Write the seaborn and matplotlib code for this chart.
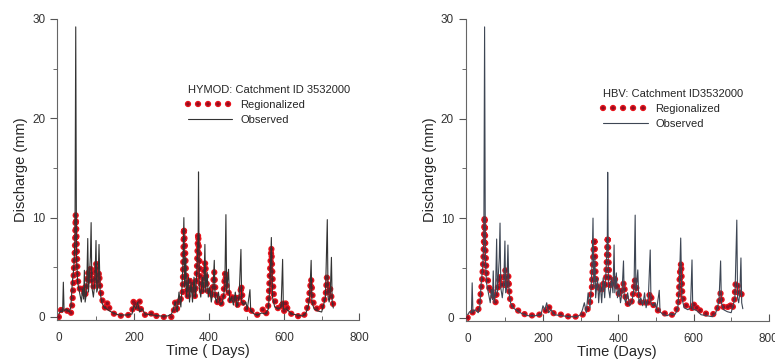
"""
observed vs regionalized discharge, HYMOD and HBV, catchment 3532000
"""
import matplotlib.pyplot as plt
import seaborn as sns
import numpy as np
from matplotlib.ticker import MultipleLocator
from matplotlib.lines import Line2D
from matplotlib.legend_handler import HandlerTuple

sns.set_style('ticks')
plt.rcParams['font.family'] = ['Liberation Sans', 'DejaVu Sans']
plt.rcParams['lines.scale_dashes'] = False

# observed discharge (same in both panels)
obs_day = [0, 5, 10, 12, 14, 20, 28, 32, 36, 40, 43, 45, 47, 50, 55, 60, 63, 66, 68, 70,
           74, 77, 79, 82, 84, 86, 88, 92, 96, 99, 101, 104, 107, 110, 114, 120, 128, 135,
           145, 160, 180, 195, 200, 205, 210, 215, 222, 230, 250, 270, 290, 300, 305, 310,
           315, 320, 325, 328, 331, 333, 335, 338, 340, 345, 348, 352, 356, 360, 364, 368,
           371, 372, 374, 378, 382, 386, 389, 391, 395, 398, 402, 406, 410, 414, 416, 420,
           425, 430, 436, 442, 445, 447, 452, 455, 460, 465, 470, 474, 480, 485, 487, 492,
           498, 502, 509, 511, 520, 530, 540, 550, 558, 562, 566, 569, 575, 585, 592, 596,
           598, 605, 612, 620, 635, 650, 658, 664, 668, 672, 674, 680, 690, 700, 705, 710,
           715, 717, 720, 723, 726, 728, 731]
obs_q = [0.3, 0.6, 0.5, 3.5, 0.6, 0.8, 0.5, 1.0, 3.5, 5.0, 8.0, 29.2, 6.0, 3.5, 2.5, 1.5, 2.8, 1.8, 4.7, 1.5,
         2.5, 7.9, 2.5, 4.5, 6.0, 9.5, 3.0, 2.0, 3.5, 7.7, 2.5, 3.0, 7.3, 2.5, 1.5, 1.0, 0.8, 0.6,
         0.4, 0.2, 0.2, 0.3, 1.2, 0.8, 1.5, 0.5, 0.8, 0.3, 0.2, 0.1, 0.1, 0.3, 0.8, 1.5,
         0.5, 2.5, 1.0, 3.0, 6.0, 10.0, 3.0, 6.0, 2.0, 4.0, 1.5, 3.5, 1.5, 4.0, 2.0, 5.0,
         8.0, 14.6, 3.0, 2.0, 4.0, 2.5, 7.3, 2.5, 4.5, 2.0, 3.0, 1.5, 2.5, 5.7, 2.0, 1.5,
         2.5, 1.2, 1.5, 3.0, 10.3, 2.5, 4.8, 1.5, 2.0, 1.2, 2.5, 1.0, 2.0, 6.8, 1.5, 1.2,
         1.5, 0.8, 2.75, 0.6, 0.3, 0.2, 0.4, 0.3, 0.8, 3.0, 8.0, 2.0, 1.0, 0.8, 1.0, 5.8,
         0.8, 0.8, 0.6, 0.3, 0.2, 0.1, 0.4, 1.0, 2.0, 5.7, 1.5, 0.8, 0.6, 0.5, 1.2, 2.0,
         9.8, 2.0, 1.5, 2.5, 6.0, 1.5, 0.9]

# regionalized HYMOD
hymod_day = [0, 5, 10, 15, 20, 28, 34, 38, 40, 43, 45, 47, 50, 53, 57, 60, 65, 70, 74, 78,
             82, 85, 88, 92, 96, 100, 103, 107, 110, 113, 118, 125, 130, 135, 140, 150, 170,
             185, 195, 200, 205, 210, 215, 220, 230, 240, 250, 260, 275, 290, 300, 305, 310,
             315, 320, 325, 330, 333, 336, 340, 343, 348, 352, 357, 362, 367, 371, 374, 378,
             382, 386, 390, 393, 398, 402, 406, 410, 414, 418, 422, 428, 432, 438, 443, 447,
             452, 458, 462, 467, 472, 476, 482, 486, 490, 495, 500, 505, 510, 520, 528, 535,
             545, 552, 558, 563, 566, 569, 573, 580, 590, 596, 600, 605, 610, 615, 622, 635,
             650, 655, 660, 664, 668, 672, 676, 680, 690, 700, 705, 710, 714, 718, 722, 726, 731]
hymod_q = [0.0, 0.7, 0.7, 0.8, 0.8, 0.2, 0.5, 2.5, 4.7, 7.0, 10.3, 8.0, 4.0, 3.0, 2.8, 2.5, 3.0, 2.0, 3.5, 4.5,
           3.5, 5.0, 4.0, 3.0, 4.0, 5.5, 3.5, 4.5, 3.0, 2.3, 1.3, 0.8, 1.5, 0.8, 0.6, 0.2, 0.1,
           0.2, 0.5, 1.8, 1.0, 0.8, 1.6, 0.5, 0.2, 0.1, 0.5, 0.1, 0.0, 0.0, 0.0, 0.3, 1.5,
           0.8, 2.0, 1.8, 2.5, 9.0, 7.0, 3.0, 2.0, 4.0, 2.5, 3.5, 2.0, 4.0, 8.4, 6.0, 3.0,
           2.5, 4.5, 5.5, 3.5, 2.5, 2.8, 2.0, 3.0, 4.5, 2.0, 1.5, 2.0, 1.2, 2.0, 4.5, 3.0,
           2.5, 1.5, 2.0, 1.5, 2.2, 1.2, 2.0, 3.2, 1.5, 1.0, 0.8, 1.0, 0.8, 0.3, 0.2, 0.5,
           0.8, 0.3, 1.2, 5.0, 7.0, 4.0, 2.0, 1.0, 0.7, 1.6, 0.6, 1.5, 0.6, 0.5, 0.2, 0.1,
           0.0, 0.3, 0.6, 1.5, 2.5, 3.8, 2.0, 1.0, 0.8, 0.8, 1.7, 1.8, 4.0, 2.5, 3.0, 2.0, 1.2]

# regionalized HBV
hbv_day = [0, 5, 10, 20, 28, 35, 38, 42, 45, 47, 50, 55, 60, 65, 70, 74, 78, 82, 86, 90,
           95, 100, 104, 108, 112, 118, 125, 135, 145, 160, 175, 190, 200, 210, 215, 220,
           230, 250, 270, 285, 300, 310, 318, 325, 330, 334, 337, 340, 345, 350, 355, 360,
           365, 368, 372, 376, 380, 385, 390, 395, 400, 405, 410, 415, 420, 428, 435, 440,
           444, 448, 453, 460, 466, 472, 478, 484, 488, 494, 500, 508, 520, 530, 545, 555,
           560, 564, 567, 570, 575, 585, 595, 600, 605, 612, 620, 635, 648, 655, 662, 668,
           672, 676, 682, 690, 696, 702, 708, 712, 716, 720, 725, 731]
hbv_q = [0.0, 0.3, 0.5, 0.6, 0.7, 2.5, 3.5, 6.0, 10.2, 7.0, 4.5, 3.5, 2.5, 2.8, 2.0, 1.5, 2.8, 3.2, 4.3, 3.2,
         3.0, 4.8, 3.0, 4.2, 2.0, 1.2, 0.9, 0.7, 0.4, 0.3, 0.2, 0.3, 0.5, 0.8, 1.2, 0.7,
         0.4, 0.3, 0.1, 0.1, 0.2, 0.4, 0.8, 1.5, 3.0, 6.5, 8.0, 4.0, 3.0, 3.2, 2.5, 3.5,
         3.0, 4.0, 8.2, 4.0, 3.0, 3.5, 4.0, 3.5, 2.5, 2.2, 3.0, 3.5, 1.8, 1.2, 1.5, 2.5,
         3.8, 3.0, 2.5, 1.5, 1.8, 1.5, 1.2, 2.5, 2.0, 1.2, 0.8, 0.7, 0.5, 0.3, 0.3, 0.8,
         1.5, 4.5, 5.5, 2.5, 1.5, 1.0, 0.9, 1.5, 0.8, 1.2, 0.5, 0.4, 0.3, 0.4, 0.8, 1.5,
         2.5, 1.5, 0.8, 1.0, 1.5, 0.8, 1.5, 3.5, 3.6, 2.5, 2.8, 1.8]

panels = [('HYMOD: Catchment ID 3532000', hymod_day, hymod_q, 'Time ( Days)', '#333333'),
          ('HBV: Catchment ID3532000', hbv_day, hbv_q, 'Time (Days)', '#3d4654')]
positions = [[0.0735, 0.121, 0.39, 0.827], [0.601, 0.119, 0.391, 0.829]]
leg_anchor = [(0.415, 0.80), (0.435, 0.785)]

dots = (0, (0.01, 5.4))
leg_dots = (0, (0.01, 7.2))
red, dark = '#e8141c', '#8e0f22'

fig = plt.figure(figsize=(7.75, 3.64), dpi=100)
for i, (title, rday, rq, xlab, obs_col) in enumerate(panels):
    ax = fig.add_axes(positions[i])
    # regionalized as a thick dotted line: red rim, dark centre
    sns.lineplot(x=rday, y=rq, ax=ax, color=red, lw=4.6, linestyle=dots,
                 dash_capstyle='round', estimator=None, sort=False, zorder=2)
    sns.lineplot(x=rday, y=rq, ax=ax, color=dark, lw=2.6, linestyle=dots,
                 dash_capstyle='round', estimator=None, sort=False, zorder=3)
    sns.lineplot(x=obs_day, y=obs_q, ax=ax, color=obs_col, lw=0.8,
                 estimator=None, sort=False, zorder=4)

    ax.set(xlim=(-5, 800), ylim=(-0.3, 30), xlabel=xlab, ylabel='Discharge (mm)')
    ax.set_xticks([0, 200, 400, 600, 800])
    ax.set_yticks([0, 10, 20, 30])
    ax.xaxis.set_minor_locator(MultipleLocator(100))
    ax.yaxis.set_minor_locator(MultipleLocator(5))
    ax.tick_params(axis='x', which='both', direction='in', colors='#555555',
                   labelcolor='#333333', labelsize=8.5, pad=9)
    ax.tick_params(axis='x', which='major', length=5)
    ax.tick_params(axis='x', which='minor', length=3)
    ax.tick_params(axis='y', which='both', direction='out', colors='#555555',
                   labelcolor='#333333', labelsize=8.5)
    ax.tick_params(axis='y', which='major', length=5)
    ax.tick_params(axis='y', which='minor', length=3)
    ax.xaxis.label.set_size(10.5)
    ax.yaxis.label.set_size(10.5)
    ax.xaxis.labelpad = 0
    ax.yaxis.labelpad = 3
    for s in ['left', 'bottom']:
        ax.spines[s].set_color('#666666')
        ax.spines[s].set_linewidth(0.8)
    sns.despine(ax=ax)

    # legend with title line on top, dotted handle for regionalized
    h_reg = (Line2D([], [], color=red, lw=4.6, linestyle=leg_dots, dash_capstyle='round'),
             Line2D([], [], color=dark, lw=2.6, linestyle=leg_dots, dash_capstyle='round'))
    h_obs = Line2D([], [], color=obs_col, lw=0.8)
    ax.legend([h_reg, h_obs], ['Regionalized', 'Observed'], title=title,
              handler_map={tuple: HandlerTuple(ndivide=1)},
              loc='upper left', bbox_to_anchor=leg_anchor[i],
              frameon=False, fontsize=8, title_fontsize=8, handlelength=4.0,
              alignment='left', borderpad=0, labelspacing=0.45,
              handletextpad=0.7)

plt.savefig('out.png', dpi=100, facecolor='white')
